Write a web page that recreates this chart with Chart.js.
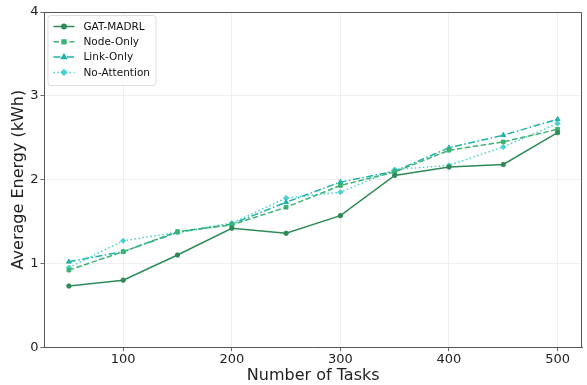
<!DOCTYPE html>
<html>
<head>
<meta charset="utf-8">
<script src="https://cdn.jsdelivr.net/npm/chart.js@4"></script>
<style>
  html, body { margin: 0; padding: 0; background: #fff; }
  #wrap { width: 587px; height: 385px; }
</style>
</head>
<body>
<div id="wrap"><canvas id="chart"></canvas></div>
<script>
const tasks = [50, 100, 150, 200, 250, 300, 350, 400, 450, 500];
const gatMadrl    = [0.73, 0.80, 1.10, 1.42, 1.36, 1.57, 2.05, 2.15, 2.18, 2.56];
const nodeOnly    = [0.92, 1.14, 1.38, 1.46, 1.67, 1.93, 2.09, 2.35, 2.45, 2.60];
const linkOnly    = [1.02, 1.14, 1.37, 1.47, 1.73, 1.97, 2.10, 2.38, 2.53, 2.72];
const noAttention = [0.95, 1.27, 1.37, 1.48, 1.78, 1.85, 2.12, 2.17, 2.39, 2.67];
const xTicks = [100, 200, 300, 400, 500];
const yTicks = [0, 1, 2, 3, 4];

const FONT = "'DejaVu Sans', sans-serif";

const series = [
  { label: 'GAT-MADRL',    data: gatMadrl,    color: '#2e8b57', dash: [],             point: 'circle',   r: 2.2 },
  { label: 'Node-Only',    data: nodeOnly,    color: '#3cb371', dash: [5.5, 2.5],     point: 'rect',     r: 2.6 },
  { label: 'Link-Only',    data: linkOnly,    color: '#20b2aa', dash: [7, 2.5, 1.5, 2.5], point: 'triangle', r: 2.8 },
  { label: 'No-Attention', data: noAttention, color: '#48d1cc', dash: [1.5, 2.5],     point: 'rectRot',  r: 2.6 }
];

// legend drawn inside the plot, matplotlib-style
const insideLegend = {
  id: 'insideLegend',
  afterDraw(chart) {
    const ctx = chart.ctx;
    const a = chart.chartArea;
    const x0 = a.left + 3, y0 = a.top + 3, w = 108, h = 70;
    ctx.save();
    ctx.fillStyle = 'rgba(255,255,255,0.8)';
    ctx.strokeStyle = '#dddddd';
    ctx.lineWidth = 1;
    ctx.beginPath();
    ctx.roundRect(x0 + 0.5, y0 + 0.5, w, h, 3);
    ctx.fill();
    ctx.stroke();
    chart.data.datasets.forEach((ds, i) => {
      const y = y0 + 11.5 + i * 15.3;
      ctx.strokeStyle = ds.borderColor;
      ctx.lineWidth = 1.5;
      ctx.setLineDash(ds.borderDash);
      ctx.beginPath();
      ctx.moveTo(x0 + 6, y);
      ctx.lineTo(x0 + 27, y);
      ctx.stroke();
      ctx.setLineDash([]);
      ctx.fillStyle = ds.borderColor;
      Chart.helpers.drawPoint(ctx, {
        pointStyle: ds.pointStyle, radius: ds.pointRadius, rotation: 0,
        borderWidth: 1
      }, x0 + 16.5, y);
      ctx.fillStyle = '#111';
      ctx.font = '10.5px ' + FONT;
      ctx.textBaseline = 'middle';
      ctx.fillText(ds.label, x0 + 36, y + 0.5);
    });
    ctx.restore();
  }
};

new Chart(document.getElementById('chart'), {
  type: 'line',
  data: {
    datasets: series.map(s => ({
      label: s.label,
      data: s.data.map((v, i) => ({ x: tasks[i], y: v })),
      borderColor: s.color,
      backgroundColor: s.color,
      borderWidth: 1.5,
      borderDash: s.dash,
      pointStyle: s.point,
      pointRadius: s.r,
      pointBorderWidth: 1,
      pointBorderColor: s.color,
      pointBackgroundColor: s.color,
      fill: false,
      tension: 0
    }))
  },
  options: {
    responsive: true,
    maintainAspectRatio: false,
    animation: false,
    layout: { padding: { top: 12, right: 4, left: 9, bottom: 0 } },
    plugins: {
      legend: { display: false },
      tooltip: { enabled: false }
    },
    scales: {
      x: {
        type: 'linear',
        min: 27.5,
        max: 522.5,
        afterBuildTicks: ax => { ax.ticks = xTicks.map(v => ({ value: v })); },
        grid: { color: '#ebebeb', lineWidth: 0.8, tickColor: '#444', tickLength: 4 },
        border: { color: '#555', width: 1 },
        ticks: { color: '#222', font: { family: FONT, size: 13 }, padding: 1, maxRotation: 0 },
        title: { display: true, text: 'Number of Tasks', color: '#222', font: { family: FONT, size: 16 }, padding: { top: -3, bottom: 0 } }
      },
      y: {
        min: 0,
        max: 4,
        afterBuildTicks: ax => { ax.ticks = yTicks.map(v => ({ value: v })); },
        grid: { color: '#ebebeb', lineWidth: 0.8, tickColor: '#444', tickLength: 4 },
        border: { color: '#555', width: 1 },
        ticks: { color: '#222', font: { family: FONT, size: 13 }, padding: 2 },
        title: { display: true, text: 'Average Energy (kWh)', color: '#222', font: { family: FONT, size: 16 }, padding: { top: 0, bottom: 0 } }
      }
    }
  },
  plugins: [insideLegend, {
    id: 'frame',
    afterDraw(chart) {
      const { ctx, chartArea: a } = chart;
      ctx.save();
      ctx.strokeStyle = '#555';
      ctx.lineWidth = 1;
      ctx.beginPath();
      ctx.moveTo(a.left, a.top + 0.5);
      ctx.lineTo(a.right - 0.5, a.top + 0.5);
      ctx.lineTo(a.right - 0.5, a.bottom);
      ctx.stroke();
      ctx.restore();
    }
  }]
});
</script>
</body>
</html>
